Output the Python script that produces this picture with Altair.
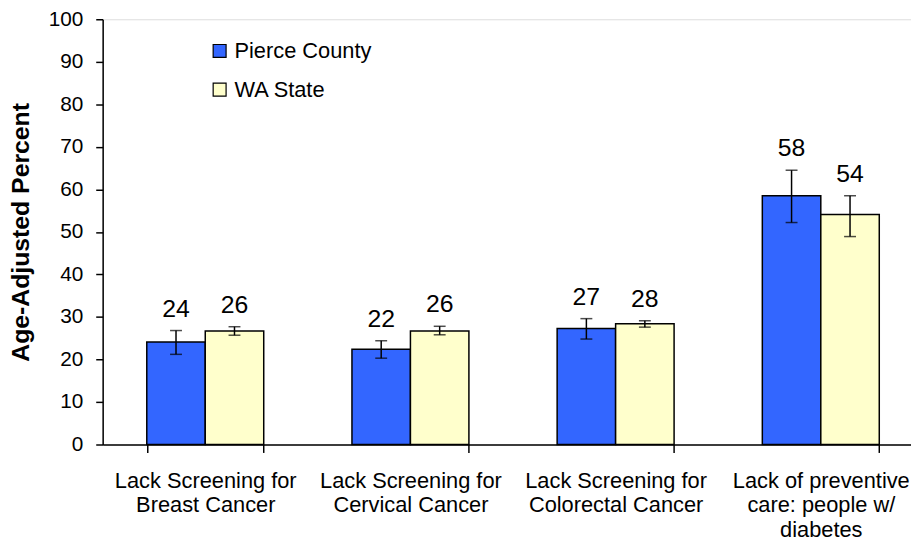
import altair as alt
import pandas as pd

categories = [
    "Lack Screening for|Breast Cancer",
    "Lack Screening for|Cervical Cancer",
    "Lack Screening for|Colorectal Cancer",
    "Lack of preventive|care: people w/|diabetes",
]
series = ["Pierce County", "WA State"]
pierce = [24.1, 22.4, 27.3, 58.5]
pierce_lo = [21.2, 20.3, 24.8, 52.2]
pierce_hi = [26.8, 24.4, 29.6, 64.5]
pierce_labels = ["24", "22", "27", "58"]
wa = [26.7, 26.7, 28.4, 54.1]
wa_lo = [25.7, 25.8, 27.6, 48.9]
wa_hi = [27.7, 27.8, 29.1, 58.5]
wa_labels = ["26", "26", "28", "54"]
y_ticks = list(range(0, 101, 10))
colors = ["#3366FF", "#FFFFCC"]

rows = []
for i, c in enumerate(categories):
    rows.append(dict(cat=c, series=series[0], v=pierce[i], lo=pierce_lo[i], hi=pierce_hi[i], lab=pierce_labels[i]))
    rows.append(dict(cat=c, series=series[1], v=wa[i], lo=wa_lo[i], hi=wa_hi[i], lab=wa_labels[i]))
df = pd.DataFrame(rows)

FONT = "Liberation Sans, Arial, sans-serif"

x = alt.X(
    "cat:N",
    sort=categories,
    scale=alt.Scale(range=[0, 828], paddingInner=0.43, paddingOuter=0.215),
    axis=alt.Axis(
        title=None,
        labelExpr="split(datum.label, '|')",
        labelAngle=0,
        labelFont=FONT,
        labelFontSize=22,
        labelLineHeight=25,
        labelColor="black",
        labelPadding=18,
        labelLimit=400,
        tickBand="extent",
        tickSize=8,
        tickColor="black",
        tickWidth=1.5,
        domainColor="black",
        domainWidth=1.5,
    ),
)
xo = alt.XOffset("series:N", sort=series)
y_scale = alt.Scale(domain=[0, 100], nice=False)

bars = alt.Chart(df).mark_bar(stroke="black", strokeWidth=1.5).encode(
    x=x,
    xOffset=xo,
    y=alt.Y(
        "v:Q",
        scale=y_scale,
        axis=alt.Axis(
            title="Age-Adjusted Percent",
            titleFont=FONT,
            titleFontSize=25,
            titleFontWeight="bold",
            titleColor="black",
            titlePadding=15,
            values=y_ticks,
            grid=False,
            labelFont=FONT,
            labelFontSize=21,
            labelColor="black",
            labelPadding=13,
            tickSize=7,
            tickColor="black",
            tickWidth=1.5,
            domainColor="black",
            domainWidth=1.5,
        ),
    ),
    fill=alt.Fill(
        "series:N",
        sort=series,
        scale=alt.Scale(domain=series, range=colors),
        legend=alt.Legend(
            orient="none",
            legendX=107,
            legendY=21,
            title=None,
            symbolType="square",
            symbolSize=170,
            symbolStrokeColor="black",
            symbolStrokeWidth=1.2,
            symbolOpacity=1,
            labelFont=FONT,
            labelFontSize=22,
            labelColor="black",
            labelOffset=4,
            rowPadding=17,
        ),
    ),
)

rules = alt.Chart(df).mark_rule(color="black", strokeWidth=1.5).encode(
    x=x, xOffset=xo, y=alt.Y("lo:Q", scale=y_scale), y2="hi:Q"
)
caps_lo = alt.Chart(df).mark_tick(color="black", size=12, thickness=1.5).encode(
    x=x, xOffset=xo, y=alt.Y("lo:Q", scale=y_scale)
)
caps_hi = alt.Chart(df).mark_tick(color="black", size=12, thickness=1.5).encode(
    x=x, xOffset=xo, y=alt.Y("hi:Q", scale=y_scale)
)
texts = alt.Chart(df).mark_text(
    font=FONT, fontSize=25, color="black", baseline="alphabetic", dy=-14
).encode(x=x, xOffset=xo, y=alt.Y("hi:Q", scale=y_scale), text="lab:N")

chart = (
    alt.layer(bars, rules, caps_lo, caps_hi, texts)
    .properties(
        width=815.5,
        height=429,
        autosize=alt.AutoSizeParams(type="none"),
        padding={"left": 95.5, "top": 9, "right": 0, "bottom": 97},
    )
    .configure_view(stroke=None)
    .configure(background="white")
)

chart.save("out.html", embed_options={"renderer": "svg", "actions": False})
